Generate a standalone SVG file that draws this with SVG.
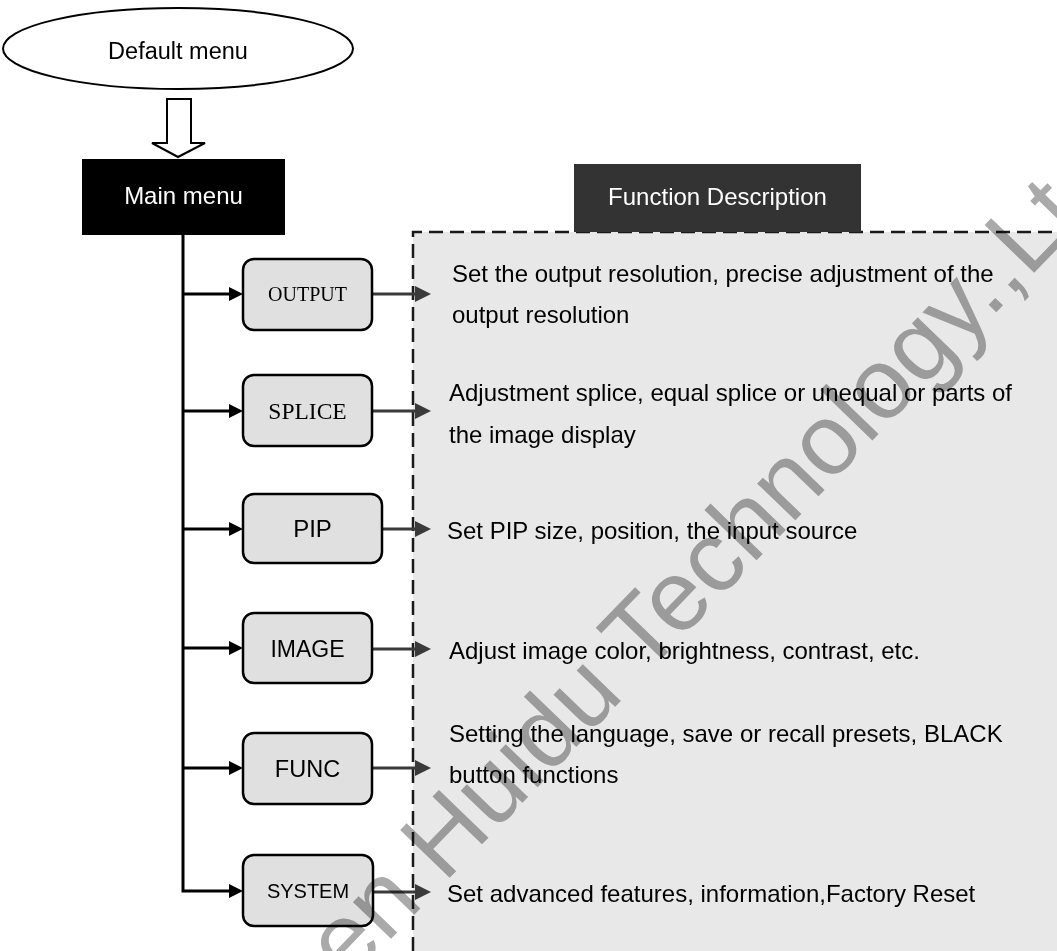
<svg xmlns="http://www.w3.org/2000/svg" width="1057" height="951" viewBox="0 0 1057 951">
<style>
.sans{font-family:"Liberation Sans",Arial,sans-serif}
.serif{font-family:"Liberation Serif","Times New Roman",serif}
.box{fill:#e0e0e0;stroke:#000;stroke-width:2.5}
.lbl{fill:#000;text-anchor:middle}
.desc{font-family:"Liberation Sans",Arial,sans-serif;font-size:24px;fill:#000}
.trunk{fill:none;stroke:#000;stroke-width:3}
.out{fill:none;stroke:#3a3a3a;stroke-width:3}
</style>
<defs>
<marker id="ah" markerUnits="userSpaceOnUse" markerWidth="14" markerHeight="14" refX="0" refY="7" orient="auto"><path d="M0,0 L14,7 L0,14 z" fill="#000"/></marker>
<marker id="ag" markerUnits="userSpaceOnUse" markerWidth="16" markerHeight="16" refX="0" refY="8" orient="auto"><path d="M0,0 L16,8 L0,16 z" fill="#3a3a3a"/></marker>
</defs>
<rect width="1057" height="951" fill="#fff"/>
<g id="panel">
<rect x="413" y="232" width="660" height="730" fill="#e8e8e8"/>
<path d="M413,951 V232 H1057" fill="none" stroke="#1a1a1a" stroke-width="2.5" stroke-dasharray="14,7"/>
</g>
<g id="default-menu">
<ellipse cx="178" cy="48.5" rx="175" ry="40.5" fill="#fff" stroke="#000" stroke-width="2"/>
<text class="sans lbl" x="178" y="59" font-size="23.5">Default menu</text>
</g>
<g id="hollow-arrow">
<path d="M167,99 H191 V143 H205 L178,157 L152,143 H167 Z" fill="#fff" stroke="#000" stroke-width="2"/>
</g>
<g id="main-menu">
<rect x="82" y="159" width="203" height="76" fill="#000"/>
<text class="sans" x="183.5" y="204" font-size="24" fill="#fff" text-anchor="middle">Main menu</text>
</g>
<g id="function-description">
<rect x="574" y="164" width="287" height="68" fill="#333"/>
<text class="sans" x="717.5" y="205" font-size="24" fill="#fff" text-anchor="middle">Function Description</text>
</g>
<g id="connectors">
<path class="trunk" d="M183,235 V891 H229" marker-end="url(#ah)"/>
<line class="trunk" x1="183" y1="294" x2="229" y2="294" marker-end="url(#ah)"/>
<line class="trunk" x1="183" y1="411" x2="229" y2="411" marker-end="url(#ah)"/>
<line class="trunk" x1="183" y1="529" x2="229" y2="529" marker-end="url(#ah)"/>
<line class="trunk" x1="183" y1="648" x2="229" y2="648" marker-end="url(#ah)"/>
<line class="trunk" x1="183" y1="768" x2="229" y2="768" marker-end="url(#ah)"/>
<line class="out" x1="372" y1="294" x2="415" y2="294" marker-end="url(#ag)"/>
<line class="out" x1="372" y1="411" x2="415" y2="411" marker-end="url(#ag)"/>
<line class="out" x1="382" y1="529" x2="415" y2="529" marker-end="url(#ag)"/>
<line class="out" x1="372" y1="649" x2="415" y2="649" marker-end="url(#ag)"/>
<line class="out" x1="372" y1="768" x2="415" y2="768" marker-end="url(#ag)"/>
<line class="out" x1="373" y1="892" x2="415" y2="892" marker-end="url(#ag)"/>
</g>
<g id="node-output">
<rect class="box" x="243" y="259" width="129" height="71" rx="11"/>
<text class="serif lbl" x="307.5" y="301" font-size="20">OUTPUT</text>
<text class="desc" x="452" y="282">Set the output resolution, precise adjustment of the</text>
<text class="desc" x="452" y="323">output resolution</text>
</g>
<g id="node-splice">
<rect class="box" x="243" y="375" width="129" height="71" rx="11"/>
<text class="serif lbl" x="307.5" y="419" font-size="23.5">SPLICE</text>
<text class="desc" x="449" y="401">Adjustment splice, equal splice or unequal or parts of</text>
<text class="desc" x="449" y="443">the image display</text>
</g>
<g id="node-pip">
<rect class="box" x="243" y="494" width="139" height="69" rx="11"/>
<text class="sans lbl" x="312.5" y="537" font-size="24">PIP</text>
<text class="desc" x="447" y="539">Set PIP size, position, the input source</text>
</g>
<g id="node-image">
<rect class="box" x="243" y="613" width="129" height="70" rx="11"/>
<text class="sans lbl" x="307.5" y="657" font-size="23">IMAGE</text>
<text class="desc" x="449" y="659">Adjust image color, brightness, contrast, etc.</text>
</g>
<g id="node-func">
<rect class="box" x="243" y="733" width="129" height="71" rx="11"/>
<text class="sans lbl" x="307.5" y="777" font-size="23.5">FUNC</text>
<text class="desc" x="449" y="742">Setting the language, save or recall presets, BLACK</text>
<text class="desc" x="449" y="783">button functions</text>
</g>
<g id="node-system">
<rect class="box" x="243" y="855" width="130" height="71" rx="11"/>
<text class="sans lbl" x="308" y="898" font-size="20">SYSTEM</text>
<text class="desc" x="447" y="902">Set advanced features, information,Factory Reset</text>
</g>
<g id="watermark" style="mix-blend-mode:multiply">
<text class="sans" transform="translate(444,884) rotate(-46)" x="-478" y="0" font-size="100" fill="#aaaaaa">Shenzhen Huidu Technology.,Ltd</text>
</g>
</svg>
